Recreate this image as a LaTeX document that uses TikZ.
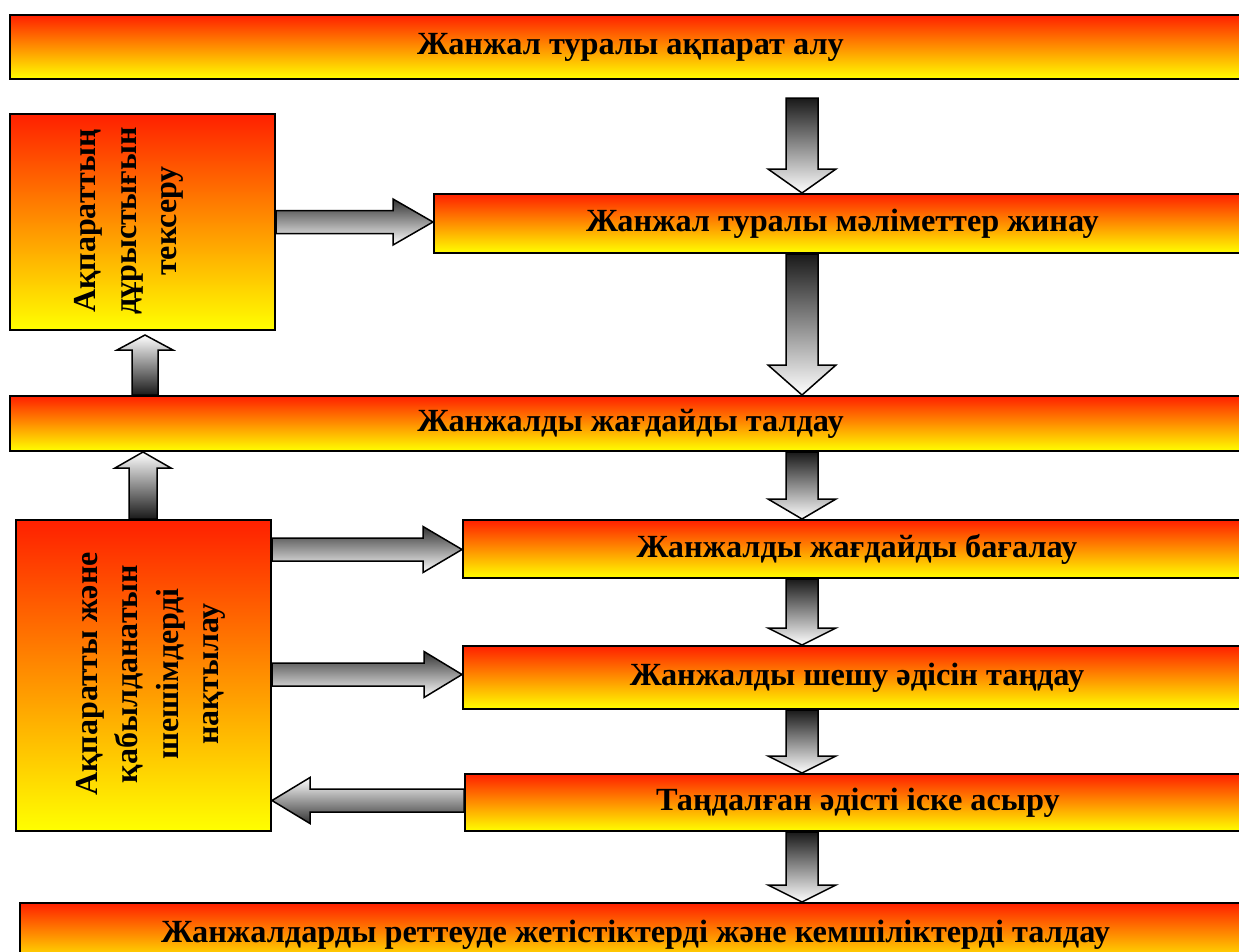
\documentclass[tikz,border=0pt]{standalone}
\usepackage{fontspec}
\setmainfont{Liberation Serif}
\usetikzlibrary{calc}
\definecolor{topred}{RGB}{255,32,0}
\tikzset{
  box/.style={draw=black, line width=2pt, top color=topred, bottom color=yellow,
    inner sep=0pt, anchor=north west, font=\bfseries\fontsize{32.3}{38}\selectfont},
  vtext/.style={rotate=90, align=center, font=\bfseries\fontsize{32}{40.5}\selectfont},
  blk/.style={draw=black, line width=1.5pt},
  downshade/.style={top color=black!90, bottom color=white},
  upshade/.style={top color=white, bottom color=black!90},
  rightshade/.style={top color=black!80, bottom color=white},
  leftshade/.style={top color=white, bottom color=black!80},
}
% #1 start, #2 end, #3 shaft half width, #4 head half width, #5 head length
\newcommand\darr[5]{\path[blk, downshade] let \p1=#1, \p2=#2 in
  (\x1-#3pt,\y1) -- (\x1+#3pt,\y1) -- (\x1+#3pt,\y2+#5pt) -- (\x1+#4pt,\y2+#5pt)
  -- (\x1,\y2) -- (\x1-#4pt,\y2+#5pt) -- (\x1-#3pt,\y2+#5pt) -- cycle;}
\newcommand\uarr[5]{\path[blk, upshade] let \p1=#1, \p2=#2 in
  (\x1-#3pt,\y1) -- (\x1+#3pt,\y1) -- (\x1+#3pt,\y2-#5pt) -- (\x1+#4pt,\y2-#5pt)
  -- (\x1,\y2) -- (\x1-#4pt,\y2-#5pt) -- (\x1-#3pt,\y2-#5pt) -- cycle;}
\newcommand\rarr[5]{\path[blk, rightshade] let \p1=#1, \p2=#2 in
  (\x1,\y1+#3pt) -- (\x2-#5pt,\y1+#3pt) -- (\x2-#5pt,\y1+#4pt) -- (\x2,\y1)
  -- (\x2-#5pt,\y1-#4pt) -- (\x2-#5pt,\y1-#3pt) -- (\x1,\y1-#3pt) -- cycle;}
\newcommand\larr[5]{\path[blk, leftshade] let \p1=#1, \p2=#2 in
  (\x1,\y1+#3pt) -- (\x2+#5pt,\y1+#3pt) -- (\x2+#5pt,\y1+#4pt) -- (\x2,\y1)
  -- (\x2+#5pt,\y1-#4pt) -- (\x2+#5pt,\y1-#3pt) -- (\x1,\y1-#3pt) -- cycle;}
\begin{document}
\begin{tikzpicture}[x=1pt,y=-1pt]
\clip (0,0) rectangle (1239,951);
% boxes
\node[box, minimum width=1241pt, minimum height=64pt] (b1) at (9,14) {Жанжал туралы ақпарат алу};
\node[box, minimum width=817pt, minimum height=59pt] (b2) at (433,193) {Жанжал туралы мәліметтер жинау};
\node[box, minimum width=265pt, minimum height=216pt] (lb1) at (9,113) {};
\node[vtext] (lb1t) at (129,221) {Ақпараттың\\дұрыстығын\\тексеру};
\node[box, minimum width=1241pt, minimum height=55pt] (b3) at (9,395) {Жанжалды жағдайды талдау};
\node[box, minimum width=788pt, minimum height=58pt] (b4) at (462,519) {Жанжалды жағдайды бағалау};
\node[box, minimum width=255pt, minimum height=311pt] (lb2) at (15,519) {};
\node[vtext] (lb2t) at (151,674) {Ақпаратты және\\қабылданатын\\шешімдерді\\нақтылау};
\node[box, minimum width=788pt, minimum height=63pt] (b5) at (462,645) {Жанжалды шешу әдісін таңдау};
\node[box, minimum width=786pt, minimum height=57pt] (b6) at (464,773) {Таңдалған әдісті іске асыру};
\node[box, minimum width=1231pt, minimum height=64pt] (b7) at (19,902) {Жанжалдарды реттеуде жетістіктерді және кемшіліктерді талдау};
% helper positions
\coordinate (ax) at (802,0);
\coordinate (ux1) at (145,0);
\coordinate (ux2) at (143,0);
\coordinate (ry1) at (0,222);
\coordinate (ry2) at (0,549.5);
\coordinate (ry3) at (0,674.5);
\coordinate (ry4) at (0,800.5);
% vertical arrows
\darr{($(b1.south -| ax)+(0,18)$)}{(b2.north -| ax)}{16}{34}{24}
\darr{(b2.south -| ax)}{(b3.north -| ax)}{16}{34}{30}
\darr{(b3.south -| ax)}{(b4.north -| ax)}{16}{34}{20}
\darr{(b4.south -| ax)}{(b5.north -| ax)}{16}{34}{17}
\darr{(b5.south -| ax)}{(b6.north -| ax)}{16}{34}{17}
\darr{(b6.south -| ax)}{(b7.north -| ax)}{16}{34}{17}
\uarr{(b3.north -| ux1)}{($(lb1.south -| ux1)+(0,4)$)}{13}{28}{15}
\uarr{(lb2.north -| ux2)}{(b3.south -| ux2)}{14}{28}{16}
% horizontal arrows
\rarr{(lb1.east |- ry1)}{(b2.west |- ry1)}{11.5}{23}{40}
\rarr{(lb2.east |- ry2)}{(b4.west |- ry2)}{11.5}{23}{39}
\rarr{(lb2.east |- ry3)}{(b5.west |- ry3)}{11.5}{23}{38}
\larr{(b6.west |- ry4)}{(lb2.east |- ry4)}{11.5}{23}{38}
\end{tikzpicture}
\end{document}
